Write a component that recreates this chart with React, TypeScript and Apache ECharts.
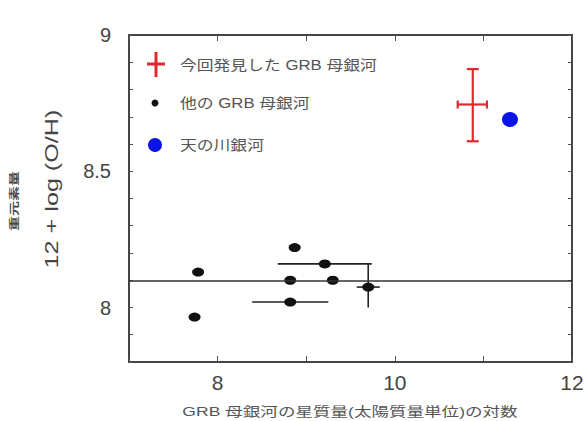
import React, { useEffect, useRef } from "react";
import * as echarts from "echarts";

// ---- data ----
const ourHost = [[10.88, 8.745]];
const ourHostErr = [[10.88, 8.745, 10.71, 11.04, 8.61, 8.875]];
const milkyWay = [[11.3, 8.69]];
const otherHosts = [
  [7.74, 7.965],
  [7.78, 8.13],
  [8.87, 8.22],
  [8.82, 8.1],
  [9.3, 8.1],
  [9.21, 8.16],
  [8.82, 8.02],
  [9.7, 8.075],
];
// [x, y, xlo, xhi, ylo, yhi]
const otherHostErr = [
  [9.21, 8.16, 8.68, 9.74, 8.16, 8.16],
  [8.82, 8.02, 8.39, 9.25, 8.02, 8.02],
  [9.7, 8.075, 9.57, 9.83, 8.0, 8.16],
];
const refLevel = 8.1;
const xTickLabels = [8, 10, 12];
const yTickLabels = [8, 8.5, 9];
const legendNames = ["今回発見した GRB 母銀河", "他の GRB 母銀河", "天の川銀河"];
const xTitle = "GRB 母銀河の星質量(太陽質量単位)の対数";
const yTitle = "12 + log (O/H)";
const ySubTitle = "重元素量";

const FONT = "'Liberation Sans', 'Noto Sans CJK JP', sans-serif";
const RED = "#e0282e";
const BLUE = "#0a14e6";
const INK = "#222";

function errRender(color: string, capV: number, capH: number, lw: number) {
  return (params: any, api: any) => {
    const c = api.coord([api.value(0), api.value(1)]);
    const xl = api.coord([api.value(2), api.value(1)]);
    const xh = api.coord([api.value(3), api.value(1)]);
    const yl = api.coord([api.value(0), api.value(4)]);
    const yh = api.coord([api.value(0), api.value(5)]);
    const style = { stroke: color, lineWidth: lw };
    const children: any[] = [];
    if (Math.abs(xh[0] - xl[0]) > 0.5) {
      children.push({ type: "line", shape: { x1: xl[0], y1: c[1], x2: xh[0], y2: c[1] }, style });
      if (capH > 0) {
        children.push({ type: "line", shape: { x1: xl[0], y1: c[1] - capH, x2: xl[0], y2: c[1] + capH }, style });
        children.push({ type: "line", shape: { x1: xh[0], y1: c[1] - capH, x2: xh[0], y2: c[1] + capH }, style });
      }
    }
    if (Math.abs(yh[1] - yl[1]) > 0.5) {
      children.push({ type: "line", shape: { x1: c[0], y1: yl[1], x2: c[0], y2: yh[1] }, style });
      if (capV > 0) {
        children.push({ type: "line", shape: { x1: c[0] - capV, y1: yl[1], x2: c[0] + capV, y2: yl[1] }, style });
        children.push({ type: "line", shape: { x1: c[0] - capV, y1: yh[1], x2: c[0] + capV, y2: yh[1] }, style });
      }
    }
    return { type: "group", children };
  };
}

const near = (v: number, arr: number[]) => arr.some((a) => Math.abs(a - v) < 1e-6);

export default function App() {
  const ref = useRef<HTMLDivElement>(null);
  useEffect(() => {
    if (!ref.current) return;
    const chart = echarts.init(ref.current, null, { renderer: "svg" });
    const axisLine = { show: true, lineStyle: { color: "#444", width: 1.8 } };
    const xBase = {
      type: "value" as const,
      min: 7,
      max: 12,
      interval: 1,
      splitLine: { show: false },
      axisLine,
      axisTick: { show: true, inside: true, length: 6, lineStyle: { color: "#555", width: 1 } },
    };
    const yBase = {
      type: "value" as const,
      min: 7.8,
      max: 9,
      interval: 0.1,
      splitLine: { show: false },
      axisLine,
      axisTick: { show: true, inside: true, length: 4, lineStyle: { color: "#555", width: 1 } },
    };
    const legendText = (i: number, y: number) => ({
      type: "text",
      x: 180,
      y,
      scaleX: 1.2,
      style: { text: legendNames[i], fontSize: 14, fill: "#555", fontFamily: FONT, verticalAlign: "middle" },
    });
    chart.setOption({
      animation: false,
      backgroundColor: "#fff",
      textStyle: { fontFamily: FONT },
      grid: { left: 129, right: 16, top: 35, bottom: 59, show: true, borderColor: "#444", borderWidth: 1.8 },
      xAxis: [
        {
          ...xBase,
          position: "bottom",
          axisLabel: {
            margin: 10,
            fontSize: 21,
            color: "#444",
            fontFamily: FONT,
            formatter: (v: number) => (near(v, xTickLabels) ? String(v) : ""),
          },
        },
        { ...xBase, position: "top", axisLabel: { show: false } },
      ],
      yAxis: [
        {
          ...yBase,
          position: "left",
          axisLabel: {
            margin: 18,
            fontSize: 20,
            color: "#444",
            fontFamily: FONT,
            formatter: (v: number) => {
              const r = Math.round(v * 10) / 10;
              return near(r, yTickLabels) ? String(r) : "";
            },
          },
        },
        { ...yBase, position: "right", axisLabel: { show: false } },
      ],
      graphic: [
        {
          type: "text",
          x: 14,
          y: 201,
          rotation: Math.PI / 2,
          scaleY: 0.65,
          style: {
            text: ySubTitle,
            fill: "#444",
            font: "bold 15px 'Noto Sans CJK JP'",
            align: "center",
            verticalAlign: "middle",
          },
        },
        {
          type: "text",
          x: 52,
          y: 189,
          rotation: Math.PI / 2,
          scaleX: 1.4,
          style: {
            text: yTitle,
            fill: "#444",
            fontSize: 18,
            fontFamily: FONT,
            align: "center",
            verticalAlign: "middle",
          },
        },
        {
          type: "text",
          x: 350,
          y: 411,
          scaleX: 1.35,
          style: {
            text: xTitle,
            fill: "#555",
            fontSize: 13,
            fontFamily: FONT,
            align: "center",
            verticalAlign: "middle",
          },
        },
        // legend
        { type: "line", shape: { x1: 147, y1: 64, x2: 165, y2: 64 }, style: { stroke: RED, lineWidth: 3 } },
        { type: "line", shape: { x1: 156, y1: 52, x2: 156, y2: 77 }, style: { stroke: RED, lineWidth: 3 } },
        { type: "circle", shape: { cx: 155, cy: 103, r: 3.5 }, style: { fill: "#111" } },
        { type: "circle", shape: { cx: 155, cy: 145, r: 7 }, style: { fill: BLUE } },
        legendText(0, 65),
        legendText(1, 103),
        legendText(2, 145),
      ],
      series: [
        {
          type: "custom",
          name: "others-err",
          renderItem: errRender(INK, 0, 0, 1.6),
          data: otherHostErr,
          encode: { x: 0, y: 1 },
          z: 2,
        },
        {
          type: "scatter",
          name: legendNames[1],
          data: otherHosts,
          symbol: "circle",
          symbolSize: [12, 9],
          itemStyle: { color: "#111", opacity: 1 },
          z: 3,
          markLine: {
            silent: true,
            symbol: "none",
            label: { show: false },
            lineStyle: { color: "#333", width: 1.6, type: "solid" },
            data: [{ yAxis: refLevel }],
          },
        },
        {
          type: "custom",
          name: legendNames[0],
          renderItem: errRender(RED, 6, 4, 2.2),
          data: ourHostErr,
          encode: { x: 0, y: 1 },
          z: 4,
        },
        {
          type: "scatter",
          name: "our-center",
          data: ourHost,
          symbolSize: 0,
          itemStyle: { color: RED },
        },
        {
          type: "scatter",
          name: legendNames[2],
          data: milkyWay,
          symbol: "circle",
          symbolSize: [16, 15],
          itemStyle: { color: BLUE, opacity: 1 },
          z: 4,
        },
      ],
    });
    return () => chart.dispose();
  }, []);
  return <div ref={ref} style={{ position: "fixed", left: 0, top: 0, width: 588, height: 421 }} />;
}
